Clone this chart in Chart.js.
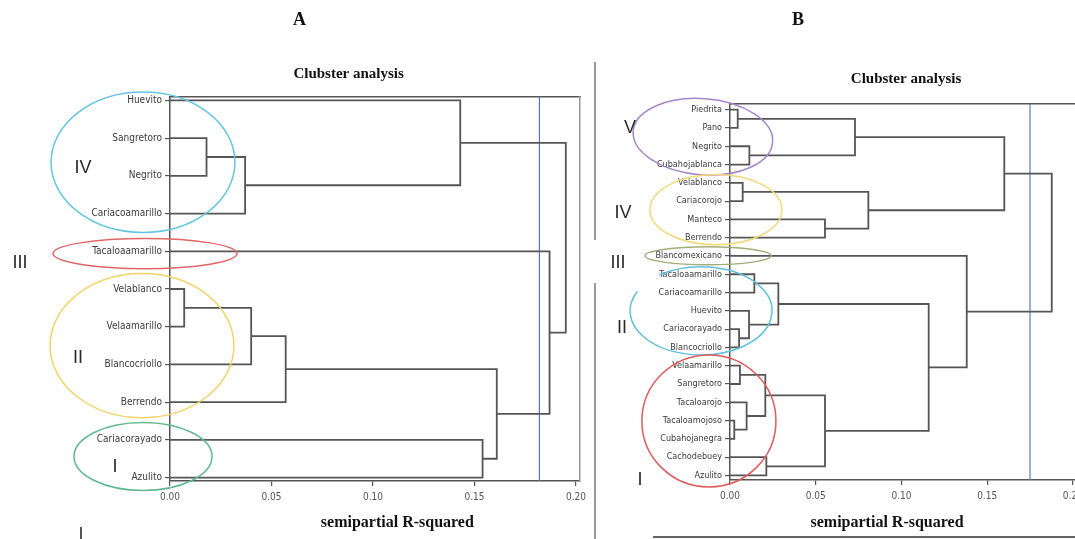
<!DOCTYPE html>
<html>
<head>
<meta charset="utf-8">
<script src="https://cdn.jsdelivr.net/npm/chart.js@4.4.0/dist/chart.umd.min.js"></script>
<style>
  html, body { margin: 0; padding: 0; background: #fff; width: 1075px; height: 539px; overflow: hidden; position: relative; }
  canvas { position: absolute; top: 0; }
  #chartA { left: 0; }
  #chartB { left: 600px; }
  .letter { position: absolute; top: 9px; font: bold 18px 'Liberation Serif', 'Times New Roman', serif; color: #111; }
  .line { position: absolute; background: #9a9a9a; }
</style>
</head>
<body>
<canvas id="chartA" width="600" height="539"></canvas>
<canvas id="chartB" width="510" height="539"></canvas>
<div class="letter" style="left:293px">A</div>
<div class="letter" style="left:792px">B</div>
<div class="line" style="left:594px; top:62px; width:1.5px; height:178px"></div>
<div class="line" style="left:594px; top:283px; width:1.5px; height:256px"></div>
<div class="line" style="left:80px; top:527px; width:1.5px; height:12px; background:#555"></div>
<div class="line" style="left:653px; top:536px; width:422px; height:1.5px; background:#666"></div>

<script>
// panel A : leaves from top to bottom
const leavesA = ['Huevito', 'Sangretoro', 'Negrito', 'Cariacoamarillo', 'Tacaloaamarillo',
    'Velablanco', 'Velaamarillo', 'Blancocriollo', 'Berrendo', 'Cariacorayado', 'Azulito'];
// merges: [child, child, semipartial R-squared]  (new node = leaves.length + row)
const mergesA = [
    [1, 2, 0.018],
    [11, 3, 0.037],
    [0, 12, 0.143],
    [5, 6, 0.007],
    [14, 7, 0.040],
    [15, 8, 0.057],
    [9, 10, 0.154],
    [16, 17, 0.161],
    [4, 18, 0.187],
    [13, 19, 0.195]
];
const cutA = 0.182;

// panel B
const leavesB = ['Piedrita', 'Pano', 'Negrito', 'Cubahojablanca', 'Velablanco', 'Cariacorojo',
    'Manteco', 'Berrendo', 'Blancomexicano', 'Tacaloaamarillo', 'Cariacoamarillo', 'Huevito',
    'Cariacorayado', 'Blancocriollo', 'Velaamarillo', 'Sangretoro', 'Tacaloarojo',
    'Tacaloamojoso', 'Cubahojanegra', 'Cachodebuey', 'Azulito'];
const mergesB = [
    [0, 1, 0.0045],
    [2, 3, 0.0113],
    [21, 22, 0.0729],
    [4, 5, 0.0074],
    [6, 7, 0.0554],
    [24, 25, 0.0807],
    [23, 26, 0.160],
    [9, 10, 0.0142],
    [12, 13, 0.0053],
    [11, 29, 0.0111],
    [28, 30, 0.0282],
    [14, 15, 0.0058],
    [17, 18, 0.0025],
    [16, 33, 0.0097],
    [32, 34, 0.0206],
    [19, 20, 0.0212],
    [35, 36, 0.0554],
    [31, 37, 0.1159],
    [8, 38, 0.1381],
    [27, 39, 0.1877]
];
const cutB = 0.175;

const xTicks = [0, 0.05, 0.10, 0.15, 0.20];
const groupsA = ['IV', 'III', 'II', 'I'];
const groupsB = ['V', 'IV', 'III', 'II', 'I'];

const narrow = "'Liberation Sans Narrow', 'DejaVu Sans Condensed', Arial, sans-serif";
const serif = "'Liberation Serif', 'Times New Roman', serif";

// turn the merge table into the U shaped links of the tree
function dendroLinks(nLeaves, merges) {
    const pos = [];
    const hgt = [];
    for (let i = 0; i < nLeaves; i++) { pos.push(i); hgt.push(0); }
    const links = [];
    merges.forEach(m => {
        const a = m[0], b = m[1], h = m[2];
        links.push([
            {x: hgt[a], y: pos[a]}, {x: h, y: pos[a]},
            {x: h, y: pos[b]}, {x: hgt[b], y: pos[b]}
        ]);
        pos.push((pos[a] + pos[b]) / 2);
        hgt.push(h);
    });
    return links;
}

// ellipses round the groups, roman numbers, titles
function makeDecor(rings, romans, title) {
    return {
        id: 'decor',
        afterDraw(chart) {
            const ctx = chart.ctx;
            const xs = chart.scales.x, ys = chart.scales.y;
            ctx.save();
            rings.forEach(r => {
                const cx = xs.getPixelForValue(r.x), cy = ys.getPixelForValue(r.y);
                const rx = Math.abs(xs.getPixelForValue(r.x + r.rx) - cx);
                const ry = Math.abs(ys.getPixelForValue(r.y + r.ry) - cy);
                ctx.beginPath();
                ctx.ellipse(cx, cy, rx, ry, r.rot || 0, r.from || 0, r.to || Math.PI * 2);
                ctx.strokeStyle = r.color;
                ctx.lineWidth = 1.5;
                ctx.stroke();
            });
            ctx.fillStyle = '#2a2a2a';
            ctx.font = "18px 'Liberation Sans', Arial, sans-serif";
            ctx.textAlign = 'center';
            ctx.textBaseline = 'middle';
            romans.forEach(t => {
                ctx.fillText(t.text, xs.getPixelForValue(t.x), ys.getPixelForValue(t.y));
            });
            ctx.fillStyle = '#111';
            ctx.font = 'bold 15px ' + serif;
            ctx.fillText('Clubster analysis', xs.getPixelForValue(title.x), chart.chartArea.top - title.top);
            ctx.font = 'bold 16px ' + serif;
            ctx.fillText('semipartial R-squared', xs.getPixelForValue(title.xb), chart.chartArea.bottom + title.bottom);
            ctx.restore();
        }
    };
}

function makeChart(id, leaves, merges, cut, cfg) {
    const datasets = dendroLinks(leaves.length, merges).map(link => ({
        data: link,
        showLine: true,
        borderColor: '#555',
        borderWidth: 1.8,
        pointRadius: 0,
        fill: false
    }));
    datasets.push({
        data: [{x: cut, y: cfg.yMin}, {x: cut, y: cfg.yMax}],
        showLine: true,
        borderColor: '#5a78b8',
        borderWidth: 1.2,
        pointRadius: 0
    });

    const ctx = document.getElementById(id).getContext('2d');
    return new Chart(ctx, {
        type: 'scatter',
        data: { datasets: datasets },
        options: {
            responsive: false,
            animation: false,
            plugins: { legend: { display: false }, tooltip: { enabled: false } },
            scales: {
                x: {
                    type: 'linear', position: 'bottom', min: 0, max: cfg.xMax,
                    afterFit: s => { s.height = cfg.bottom; },
                    afterBuildTicks: s => { s.ticks = xTicks.map(v => ({value: v})); },
                    ticks: { callback: v => v.toFixed(2), color: '#555', font: {family: narrow, size: 10}, padding: 5, maxRotation: 0 },
                    grid: { drawOnChartArea: false, tickLength: 5, color: '#555', lineWidth: 1.2 },
                    border: { color: '#555', width: 1.5 }
                },
                y: {
                    type: 'linear', position: 'left', reverse: true, min: cfg.yMin, max: cfg.yMax,
                    afterFit: s => { s.width = cfg.left; },
                    afterBuildTicks: s => { s.ticks = leaves.map((n, i) => ({value: i})); },
                    ticks: { autoSkip: false, callback: v => leaves[v], color: '#3a3a3a', font: {family: narrow, size: cfg.leafSize}, padding: 3 },
                    grid: { drawOnChartArea: false, tickLength: 5, color: '#555', lineWidth: 1.2 },
                    border: { color: '#555', width: 1.5 }
                },
                x2: {
                    type: 'linear', position: 'top',
                    afterFit: s => { s.height = cfg.top; },
                    ticks: { display: false }, grid: { display: false },
                    border: { color: '#555', width: 1.5 }
                },
                y2: {
                    type: 'linear', position: 'right',
                    afterFit: s => { s.width = 20; },
                    ticks: { display: false }, grid: { display: false },
                    border: { color: '#999', width: 1.5 }
                }
            }
        },
        plugins: [makeDecor(cfg.rings, cfg.romans, cfg.title)]
    });
}

var chartA = makeChart('chartA', leavesA, mergesA, cutA, {
    xMax: 0.202, yMin: -0.09, yMax: 10.09, left: 170, top: 97, bottom: 58, leafSize: 10,
    rings: [
        {x: -0.0133, y: 1.64, rx: 0.0453, ry: 1.86, color: '#62c6e3'},
        {x: -0.0123, y: 4.06, rx: 0.0453, ry: 0.40, color: '#e06666'},
        {x: -0.0138, y: 6.50, rx: 0.0453, ry: 1.91, color: '#f2d46a'},
        {x: -0.0133, y: 9.44, rx: 0.0340, ry: 0.90, color: '#5fb891'}
    ],
    romans: [
        {text: groupsA[0], x: -0.0429, y: 1.80},
        {text: groupsA[1], x: -0.0739, y: 4.30},
        {text: groupsA[2], x: -0.0453, y: 6.82},
        {text: groupsA[3], x: -0.0271, y: 9.73}
    ],
    title: {x: 0.088, top: 23, xb: 0.112, bottom: 42}
});

var chartB = makeChart('chartB', leavesB, mergesB, cutB, {
    xMax: 0.21, yMin: -0.31, yMax: 20.25, left: 130, top: 104, bottom: 59, leafSize: 9,
    rings: [
        {x: -0.0158, y: 1.48, rx: 0.0408, ry: 2.08, color: '#a586cc', rot: 0.08},
        {x: -0.0082, y: 5.47, rx: 0.0385, ry: 1.92, color: '#f0da7a'},
        {x: -0.0128, y: 7.99, rx: 0.0368, ry: 0.49, color: '#a2ae7a'},
        {x: -0.0169, y: 11.0, rx: 0.0414, ry: 2.41, color: '#5fc0dc', from: -2.2, to: 3.6},
        {x: -0.0123, y: 17.02, rx: 0.0391, ry: 3.61, color: '#e05a5a'}
    ],
    romans: [
        {text: groupsB[0], x: -0.0583, y: 0.99},
        {text: groupsB[1], x: -0.0624, y: 5.64},
        {text: groupsB[2], x: -0.0653, y: 8.37},
        {text: groupsB[3], x: -0.0630, y: 11.93},
        {text: groupsB[4], x: -0.0525, y: 20.25}
    ],
    title: {x: 0.1027, top: 25, xb: 0.0916, bottom: 43}
});
</script>
</body>
</html>
